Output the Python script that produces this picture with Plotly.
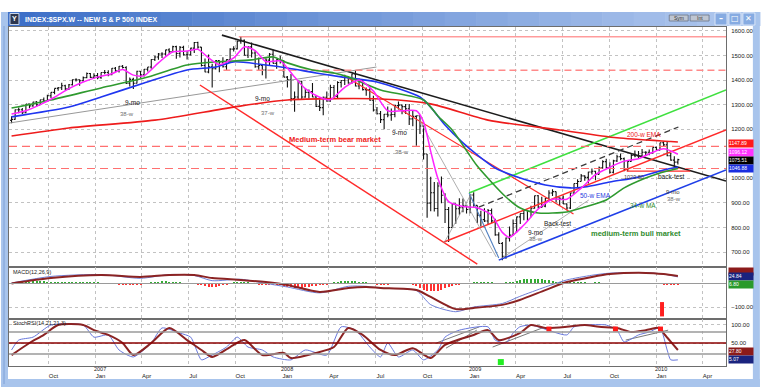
import plotly.graph_objects as go
import pandas as pd

# ------------------------------------------------------------------ data
week_dates = pd.date_range("2006-07-21", periods=187, freq="W-FRI")

bar_open = [
    1236,1240,1279,1279,1267,1302,1295,1311,1299,1320,1315,1336,1350,1366,1369,1377,1364,1381,1401,1401,1397,1410,1427,1411,
    1418,1410,1431,1431,1422,1448,1438,1456,1451,1387,1403,1387,1436,1421,1444,1453,1484,1494,1506,1506,1523,1516,1536,1508,1533,1503,1503,1530,1553,1534,1459,1433,1454,1446,1479,1474,1454,1484,1526,1527,1558,1562,1501,1535,1510,1454,1459,1441,1481,1505,1468,1484,
    1478,1412,1401,1325,1331,1395,1331,1350,1353,1331,1293,1288,1330,1315,1370,1333,1390,1398,1414,1388,1425,1376,1400,1361,1360,1318,1278,1263,1239,1261,1258,1260,1296,1298,1292,1283,1242,1252,1255,1213,1099,899,941,877,969,931,873,800,896,876,880,888,
    873,932,890,850,832,826,869,827,770,735,683,757,769,816,843,857,870,866,878,929,883,887,919,940,946,921,919,896,879,940,979,987,1010,1004,1026,1029,1016,1043,1068,1044,1025,1071,1088,1080,1036,1069,1093,1091,1091,1106,1106,1102,1126,
    1115,1145,1136,1092,1074,1066]
bar_high = [
    1253,1280,1288,1286,1303,1305,1312,1315,1320,1329,1340,1350,1366,1372,1389,1381,1384,1403,1407,1403,1415,1431,1429,1428,
    1429,1431,1441,1440,1449,1453,1457,1461,1456,1410,1409,1438,1437,1445,1453,1485,1499,1510,1513,1523,1530,1540,1540,1539,1540,1518,1532,1555,1556,1535,1488,1504,1466,1482,1481,1493,1485,1530,1538,1561,1576,1565,1536,1553,1520,1492,1462,1489,1510,1523,1485,1499,
    1480,1417,1425,1353,1396,1397,1368,1362,1388,1336,1321,1333,1353,1381,1380,1395,1398,1422,1416,1426,1440,1406,1404,1370,1367,1336,1290,1274,1262,1292,1284,1297,1313,1301,1303,1303,1274,1256,1256,1215,1099,1006,985,984,1007,939,883,897,897,919,918,888,
    932,943,890,868,878,875,877,835,780,741,759,804,832,845,857,875,871,888,930,932,925,920,951,956,946,922,930,898,942,979,996,1018,1013,1027,1040,1031,1048,1074,1080,1065,1076,1096,1101,1085,1072,1100,1113,1111,1119,1110,1117,1126,1130,
    1145,1150,1150,1103,1090,1080]
bar_low = [
    1224,1238,1265,1262,1265,1285,1291,1292,1298,1310,1313,1327,1342,1357,1360,1358,1360,1378,1394,1377,1394,1407,1408,1406,
    1403,1405,1424,1416,1420,1433,1431,1447,1384,1374,1364,1386,1409,1415,1435,1446,1478,1483,1490,1500,1505,1512,1487,1492,1500,1484,1500,1510,1527,1455,1432,1428,1370,1443,1432,1451,1439,1476,1516,1524,1548,1500,1490,1492,1450,1439,1420,1406,1460,1467,1446,1467,
    1411,1370,1313,1271,1323,1320,1328,1325,1330,1290,1274,1257,1312,1312,1328,1324,1370,1380,1385,1385,1374,1363,1358,1336,1316,1272,1260,1225,1200,1249,1234,1249,1280,1261,1262,1217,1212,1133,1180,1077,840,866,865,845,899,818,741,800,815,852,862,857,
    858,884,818,804,822,811,818,766,735,667,673,743,767,779,814,829,826,842,876,878,879,882,915,928,903,888,896,870,875,937,965,987,990,979,1016,992,1016,1039,1041,1020,1020,1066,1074,1029,1029,1069,1086,1083,1091,1092,1094,1102,1115,
    1114,1131,1090,1072,1045,1056]
bar_close = [
    1240,1279,1279,1267,1302,1295,1311,1299,1320,1315,1336,1350,1366,1369,1377,1364,1381,1401,1401,1397,1410,1427,1411,1418,
    1410,1431,1431,1422,1448,1438,1456,1451,1387,1403,1387,1436,1421,1444,1453,1484,1494,1506,1506,1523,1516,1536,1508,1533,1503,1503,1530,1553,1534,1459,1433,1454,1446,1479,1474,1454,1484,1526,1527,1558,1562,1501,1535,1510,1454,1459,1441,1481,1505,1468,1484,1478,
    1412,1401,1325,1331,1395,1331,1350,1353,1331,1293,1288,1330,1315,1370,1333,1390,1398,1414,1388,1425,1376,1400,1361,1360,1318,1278,1263,1239,1261,1258,1260,1296,1298,1292,1283,1242,1252,1255,1213,1099,899,941,877,969,931,873,800,896,876,880,888,873,
    932,890,850,832,826,869,827,770,735,683,757,769,816,843,857,870,866,878,929,883,887,919,940,946,921,919,896,879,940,979,987,1010,1004,1026,1029,1016,1043,1068,1044,1025,1071,1088,1080,1036,1069,1093,1091,1091,1106,1106,1102,1126,1115,
    1145,1136,1092,1074,1066,1076]

fast_ma_dates = ["2006-07-21","2006-08-18","2006-09-15","2006-10-13","2006-11-10","2006-12-08",
    "2007-01-05","2007-02-02","2007-02-23","2007-03-16","2007-04-06","2007-05-04","2007-06-01","2007-06-29","2007-07-20","2007-08-10","2007-08-31","2007-09-28","2007-10-19","2007-11-09","2007-11-30","2007-12-28",
    "2008-01-25","2008-02-15","2008-03-14","2008-04-04","2008-05-02","2008-05-30","2008-06-27","2008-07-25","2008-08-22","2008-09-19","2008-10-03","2008-10-17","2008-10-31","2008-11-21","2008-12-19",
    "2009-01-16","2009-02-13","2009-03-06","2009-03-20","2009-04-17","2009-05-15","2009-06-12","2009-07-10","2009-08-07","2009-09-04","2009-10-02","2009-10-30","2009-11-27","2009-12-24",
    "2010-01-15","2010-02-12"]
fast_ma = [1262,1275,1300,1330,1365,1392,
    1412,1426,1443,1420,1418,1470,1515,1518,1525,1490,1463,1490,1535,1520,1475,1478,
    1412,1365,1330,1320,1370,1400,1355,1275,1275,1275,1230,1110,1000,905,885,
    880,850,780,760,810,875,915,915,960,1015,1045,1070,1080,1105,
    1120,1098]

ma34_dates = ["2006-07-21","2006-10-06","2007-01-12","2007-04-06","2007-06-29","2007-08-24","2007-11-02","2007-12-14",
    "2008-01-11","2008-02-29","2008-04-11","2008-05-09","2008-07-11","2008-10-03","2008-10-31","2008-11-28",
    "2009-01-16","2009-03-13","2009-04-10","2009-05-15","2009-07-10","2009-08-14","2009-09-25","2009-10-30","2009-12-11",
    "2010-01-08","2010-02-12"]
ma34 = [1286,1319,1368,1408,1461,1474,1482,1494,
    1470,1441,1429,1413,1360,1319,1254,1197,
    1050,924,879,859,863,883,912,961,1001,
    1022,1040]

ema50_dates = ["2006-07-21","2006-11-10","2007-01-12","2007-04-06","2007-06-29","2007-08-24","2007-09-28","2007-11-30",
    "2008-01-11","2008-03-07","2008-04-25","2008-07-04","2008-09-26","2008-10-17","2008-11-14","2008-12-19",
    "2009-01-16","2009-02-20","2009-04-10","2009-05-29","2009-07-17","2009-08-14","2009-10-02","2009-11-27",
    "2010-01-15","2010-02-12"]
ema50 = [1250,1290,1331,1388,1441,1453,1474,1461,
    1449,1429,1413,1392,1331,1290,1217,1144,
    1095,1042,1001,973,961,965,985,1005,
    1034,1046]

ema200_dates = ["2006-07-21","2006-11-10","2007-04-27","2007-09-28","2008-01-11","2008-07-11","2008-10-17",
    "2009-02-06","2009-06-26","2009-10-16","2010-01-29","2010-02-12"]
ema200 = [1172,1205,1237,1290,1319,1323,1303,1237,1197,1165,1150,1148]

# straight trend lines: (start date, start price, end date, end price)
trend_names = ["main_down", "long_up", "bear_low", "bear_up", "bull_red", "bull_green", "bull_blue",
               "bull_dash", "drop_blue", "drop_gray", "fan_a", "fan_b", "support"]
trend_start_dates = ["2007-09-05", "2006-07-16", "2007-07-24", "2008-05-02", "2008-11-12", "2008-12-31", "2009-02-27",
                     "2009-01-19", "2008-12-31", "2008-09-25", "2008-11-12", "2009-03-06", "2009-11-04"]
trend_start_prices = [1583, 1225, 1380, 1417, 741, 940, 667, 883, 940, 1237, 737, 676, 1029]
trend_end_dates = ["2010-05-17", "2008-07-03", "2009-01-16", "2009-07-23", "2010-05-17", "2010-05-17", "2010-05-17",
                   "2010-02-13", "2009-02-27", "2009-02-22", "2009-01-03", "2009-08-22", "2010-03-08"]
trend_end_prices = [989, 1453, 651, 855, 1197, 1360, 1034, 1209, 676, 680, 932, 912, 1029]

level_prices = [1576, 1440, 1130, 1040]
level_starts = ["2007-10-08", "2007-09-08", "2006-07-16", "2006-07-16"]

note_texts = ["9-mo", "38-w", "9-mo", "37-w", "9-mo", "38-w", "Medium-term bear market", "200-w EMA",
              "50-w EMA", "34-w MA", "medium-term bull market", "Back-test", "9-mo", "38-w",
              "back-test", "9-mo", "38-w", "1029.80"]
note_dates = ["2007-03-14", "2007-03-04", "2007-11-24", "2007-12-04", "2008-08-17", "2008-08-21", "2008-01-10", "2009-12-07",
              "2009-09-04", "2009-12-05", "2009-11-23", "2009-06-22", "2009-05-10", "2009-05-10",
              "2010-01-30", "2010-02-03", "2010-02-05", "2009-11-19"]
note_prices = [1307, 1262, 1327, 1266, 1185, 1107, 1160, 1180, 932, 891, 777, 818, 781, 753, 1009, 944, 916, 1005]

price_ticks = [700, 800, 900, 1000, 1100, 1200, 1300, 1400, 1500, 1600]
price_tick_text = ["700.00", "800.00", "900.00", "1000.00", "", "1200.00", "1300.00", "1400.00", "1500.00", "1600.00"]
last_values = ["1147.89", "1096.12", "1075.51", "1046.88"]
last_value_prices = [1141, 1106, 1073, 1040]

macd_hist = [0,1,2,
    4,6,8,9,10,10,9,8,8,7,7,6,6,5,5,5,4,4,4,3,3,3,2,2,2,1,
    -2,-4,-6,-8,-8,-7,-5,-3,-1,
    2,4,6,8,9,9,8,6,4,3,1,
    0,-1,-2,
    -4,-7,-10,-13,-14,-13,-10,-7,-4,
    1,3,5,6,5,3,1,
    -2,-4,-6,-8,-6,-4,-3,
    -5,-10,-14,-17,-19,-20,-18,-16,-14,-11,-9,-7,-5,-3,
    2,5,8,10,12,12,11,9,7,5,3,
    -1,-2,-3,-4,-4,-3,-2,-1,-1,0,-1,-2,
    -5,-10,-18,-26,-32,-34,-33,-30,-26,-21,-16,-11,-7,-4,-2,
    1,2,3,3,4,4,3,3,2,2,2,3,
    5,8,11,14,17,19,20,21,20,18,16,13,10,8,6,4,
    3,3,4,4,3,3,2,2,3,3,2,2,2,1,1,2,2,1,1,1,1,0,0,1,
    0,-1,-2,-3,-4,-5,-5,-4]
macd_dates = ["2006-07-21","2006-10-06","2007-01-12","2007-03-30","2007-05-25","2007-07-13","2007-08-17","2007-10-12","2007-11-30",
    "2008-01-11","2008-03-14","2008-05-09","2008-06-13","2008-07-11","2008-09-19","2008-10-17","2008-12-05",
    "2009-01-09","2009-03-06","2009-04-09","2009-05-29","2009-07-10","2009-08-28","2009-10-02","2009-12-11",
    "2010-01-15","2010-02-12"]
macd_signal = [0,23,36,28,36,36,23,15,6,-6,-36,-19,-15,-19,-28,-57,-109,-104,-91,-70,-28,6,28,40,45,40,32]
macd_line = [2,30,38,22,38,34,12,18,0,-15,-40,-12,-12,-20,-30,-90,-120,-100,-85,-55,-15,15,35,44,46,40,28]
macd_ticks = [-100]
macd_values = ["", "24.84", "6.80"]
macd_value_levels = [49, 28, -6]
macd_alert_date = "2010-01-12"
macd_alert_range = [-79, -140]

stoch_slow_dates = ["2006-07-21","2006-08-25","2006-09-22","2006-10-20","2006-12-08","2006-12-29",
    "2007-01-26","2007-02-23","2007-03-16","2007-04-20","2007-05-25","2007-06-29","2007-07-27","2007-08-17","2007-09-21","2007-10-19","2007-11-23",
    "2008-01-04","2008-01-18","2008-03-07","2008-04-11","2008-05-09","2008-06-06","2008-07-11","2008-08-08","2008-09-12","2008-10-17","2008-11-14",
    "2009-01-09","2009-02-06","2009-02-27","2009-04-09","2009-05-01","2009-05-29","2009-07-10","2009-08-14","2009-09-11","2009-10-16","2009-11-13","2009-12-11",
    "2010-01-08","2010-01-15","2010-02-12"]
stoch_slow = [17,50,72,99,99,85,
    72,50,17,50,91,58,31,12,39,58,17,
    23,9,23,39,91,72,31,17,36,9,45,
    72,85,58,77,99,91,94,99,94,91,80,85,
    91,77,31]
stoch_fast_dates = ["2006-07-21","2006-08-04","2006-09-01","2006-10-06","2006-12-08","2006-12-29",
    "2007-01-26","2007-02-16","2007-03-16","2007-04-20","2007-05-11","2007-06-15","2007-07-06","2007-07-27","2007-08-10","2007-09-14","2007-10-05","2007-10-26","2007-11-23","2007-12-14",
    "2008-01-18","2008-02-15","2008-03-28","2008-04-25","2008-05-23","2008-06-20","2008-07-11","2008-07-25","2008-08-15","2008-09-12","2008-10-03","2008-10-31","2008-11-14","2008-12-12",
    "2009-02-06","2009-02-20","2009-03-13","2009-03-27","2009-04-09","2009-05-01","2009-07-10","2009-07-24","2009-08-14","2009-09-25","2009-10-16","2009-10-30","2009-11-27","2009-12-18",
    "2010-01-08","2010-01-22","2010-01-29","2010-02-12"]
stoch_fast = [31,58,66,99,99,66,
    72,31,12,50,91,77,66,4,12,39,66,39,31,12,
    4,31,17,94,85,39,12,50,12,31,4,31,66,85,
    94,58,50,77,94,99,72,94,99,99,85,53,72,80,
    91,31,4,4]
stoch_levels = [80, 50, 20]
stoch_ticks = [100, 50]
stoch_trend_start_dates = ["2008-10-28", "2008-11-16", "2009-02-15", "2009-11-02"]
stoch_trend_start_vals = [50, 36, 39, 58]
stoch_trend_end_dates = ["2009-01-20", "2009-01-15", "2009-05-23", "2010-01-24"]
stoch_trend_end_vals = [94, 85, 91, 85]
stoch_flag_dates = ["2009-06-05", "2009-10-13", "2010-01-09"]
stoch_flag_vals = [88, 88, 88]
stoch_buy_date = ["2009-03-03"]
stoch_buy_val = [-2]
stoch_values = ["27.80", "5.07"]
stoch_value_levels = [28, 6]

tick_dates = ["2006-10-01","2007-01-01","2007-04-01","2007-07-01","2007-10-01","2008-01-01","2008-04-01","2008-07-01",
              "2008-10-01","2009-01-01","2009-04-01","2009-07-01","2009-10-01","2010-01-01","2010-04-01"]
tick_text = ["Oct","Jan","Apr","Jul","Oct","Jan","Apr","Jul","Oct","Jan","Apr","Jul","Oct","Jan","Apr"]
year_dates = ["2007-01-01", "2008-01-01", "2009-01-01", "2010-01-01"]
year_text = ["2007", "2008", "2009", "2010"]

title_text = "INDEX:$SPX.W -- NEW S & P 500 INDEX"

# ------------------------------------------------------------------ styles
FONT = "Liberation Sans, Arial, sans-serif"
X_RANGE = ["2006-07-16", "2010-05-17"]
GRID = "#c2c2c2"
FRAME = "#6d6d6d"
trend_styles = {
    "main_down": dict(color="#1c1c1c", width=1.6),
    "long_up": dict(color="#8c8c8c", width=0.9),
    "bear_low": dict(color="#ff2a2a", width=1.4),
    "bear_up": dict(color="#ff2a2a", width=1.2),
    "bull_red": dict(color="#ff2a2a", width=1.5),
    "bull_green": dict(color="#3fe03f", width=1.6),
    "bull_blue": dict(color="#1f3fe8", width=1.6),
    "bull_dash": dict(color="#3a3a3a", width=1.3, dash="6px,4px"),
    "drop_blue": dict(color="#4f7fc0", width=1.1),
    "drop_gray": dict(color="#999999", width=0.8),
    "fan_a": dict(color="#999999", width=0.8),
    "fan_b": dict(color="#999999", width=0.8),
    "support": dict(color="#ff2a2a", width=1.3),
}
level_styles = [dict(color="#ff6a6a", width=1.0),
                dict(color="#ff8a8a", width=1.3, dash="7px,4px"),
                dict(color="#ff7070", width=1.2, dash="8px,5px"),
                dict(color="#ff7070", width=1.2, dash="8px,5px")]
note_styles = [
    dict(color="#202020", size=6.5), dict(color="#707070", size=6), dict(color="#202020", size=6.5), dict(color="#707070", size=6),
    dict(color="#202020", size=6.5), dict(color="#707070", size=6), dict(color="#ee2020", size=7.5, bold=True, left=True),
    dict(color="#ee2020", size=6.5), dict(color="#2a3ae0", size=6.5), dict(color="#2e8b2e", size=6.5),
    dict(color="#2e8b2e", size=7.5, bold=True), dict(color="#202020", size=6.5), dict(color="#202020", size=6.5),
    dict(color="#707070", size=6), dict(color="#202020", size=6.5), dict(color="#404040", size=6),
    dict(color="#707070", size=6), dict(color="#404040", size=5.5)]
value_colors = ["#ff1a1a", "#ff33ff", "#000000", "#1a2ee0"]
macd_value_colors = ["#8b1a1a", "#1a237e", "#2a9a2a"]
stoch_value_colors = ["#8b1a1a", "#1a237e"]

fig = go.Figure()

# --- main price panel
for name, d0, p0, d1, p1 in zip(trend_names, trend_start_dates, trend_start_prices, trend_end_dates, trend_end_prices):
    fig.add_trace(go.Scatter(x=[d0, d1], y=[p0, p1], mode="lines", line=trend_styles[name],
                             xaxis="x", yaxis="y", hoverinfo="skip"))
for p, s, st in zip(level_prices, level_starts, level_styles):
    fig.add_trace(go.Scatter(x=[s, X_RANGE[1]], y=[p, p], mode="lines", line=st,
                             xaxis="x", yaxis="y", hoverinfo="skip"))

fig.add_trace(go.Ohlc(x=week_dates, open=bar_open, high=bar_high, low=bar_low, close=bar_close,
                      increasing=dict(line=dict(color="#111111", width=1.1)),
                      decreasing=dict(line=dict(color="#111111", width=1.1)),
                      tickwidth=0.4, xaxis="x", yaxis="y", hoverinfo="skip"))

for dts, vals, col, w in [(ema200_dates, ema200, "#ee1c1c", 1.6),
                          (ema50_dates, ema50, "#1f35f0", 1.6),
                          (ma34_dates, ma34, "#2f9a2f", 1.6),
                          (fast_ma_dates, fast_ma, "#ff22ff", 1.5)]:
    fig.add_trace(go.Scatter(x=dts, y=vals, mode="lines",
                             line=dict(color=col, width=w, shape="spline", smoothing=0.7),
                             xaxis="x", yaxis="y", hoverinfo="skip"))

# --- MACD panel
fig.add_trace(go.Bar(x=week_dates, y=macd_hist,
                     marker=dict(color=["#33aa33" if v >= 0 else "#ff3333" for v in macd_hist], line=dict(width=0)),
                     width=1.7e8, xaxis="x2", yaxis="y2", hoverinfo="skip"))
fig.add_trace(go.Scatter(x=macd_dates, y=macd_line, mode="lines",
                         line=dict(color="#6f7fd8", width=1, shape="spline", smoothing=0.7),
                         xaxis="x2", yaxis="y2", hoverinfo="skip"))
fig.add_trace(go.Scatter(x=macd_dates, y=macd_signal, mode="lines",
                         line=dict(color="#8b2323", width=2, shape="spline", smoothing=0.7),
                         xaxis="x2", yaxis="y2", hoverinfo="skip"))
fig.add_trace(go.Scatter(x=[macd_alert_date, macd_alert_date], y=macd_alert_range, mode="lines",
                         line=dict(color="#ff2020", width=4), xaxis="x2", yaxis="y2", hoverinfo="skip"))

# --- StochRSI panel
for d0, v0, d1, v1 in zip(stoch_trend_start_dates, stoch_trend_start_vals, stoch_trend_end_dates, stoch_trend_end_vals):
    fig.add_trace(go.Scatter(x=[d0, d1], y=[v0, v1], mode="lines", line=dict(color="#555555", width=0.8),
                             xaxis="x3", yaxis="y3", hoverinfo="skip"))
fig.add_trace(go.Scatter(x=stoch_fast_dates, y=stoch_fast, mode="lines",
                         line=dict(color="#6878dd", width=1, shape="spline", smoothing=0.6),
                         xaxis="x3", yaxis="y3", hoverinfo="skip"))
fig.add_trace(go.Scatter(x=stoch_slow_dates, y=stoch_slow, mode="lines",
                         line=dict(color="#8b2323", width=2, shape="spline", smoothing=0.7),
                         xaxis="x3", yaxis="y3", hoverinfo="skip"))
fig.add_trace(go.Scatter(x=stoch_flag_dates, y=stoch_flag_vals, mode="markers",
                         marker=dict(symbol="square", size=5, color="#ff1a1a"),
                         xaxis="x3", yaxis="y3", hoverinfo="skip"))
fig.add_trace(go.Scatter(x=stoch_buy_date, y=stoch_buy_val, mode="markers",
                         marker=dict(symbol="square", size=6, color="#22ee22"),
                         xaxis="x3", yaxis="y3", hoverinfo="skip"))

# ------------------------------------------------------------------ layout
def pxx(px):
    return (px - 8) / 720.0


def pxy(py):
    return (366 - py) / 339.0


shapes = []
shapes.append(dict(type="line", xref="paper", x0=0, x1=1, yref="y2", y0=0, y1=0,
                   line=dict(color="#9a9a9a", width=1.2)))
for lv, col in zip(stoch_levels, ["#9a9a9a", "#8b0000", "#9a9a9a"]):
    shapes.append(dict(type="line", xref="paper", x0=0, x1=1, yref="y3", y0=lv, y1=lv,
                       line=dict(color=col, width=1.4)))

# window chrome: title bar gradient
n_seg = 24
c0 = (62, 112, 200)
c1 = (176, 200, 238)
for i in range(n_seg):
    f = i / (n_seg - 1)
    col = "rgb(%d,%d,%d)" % tuple(int(a + (b - a) * f) for a, b in zip(c0, c1))
    xa = 2 + (762 - 2) * i / n_seg
    xb = 2 + (762 - 2) * (i + 1) / n_seg + 0.6
    shapes.append(dict(type="rect", xref="paper", yref="paper", x0=pxx(xa), x1=pxx(xb),
                       y0=pxy(26), y1=pxy(12), fillcolor=col, line=dict(width=0), layer="below"))
for (xa, xb, ya, yb) in [(0, 7, 12, 387), (755, 762, 12, 387), (0, 762, 379, 387)]:
    shapes.append(dict(type="rect", xref="paper", yref="paper", x0=pxx(xa), x1=pxx(xb),
                       y0=pxy(yb), y1=pxy(ya), fillcolor="#a8c4ec", line=dict(width=0), layer="below"))
shapes.append(dict(type="line", xref="paper", yref="paper", x0=pxx(3), x1=pxx(3), y0=pxy(384), y1=pxy(26),
                   line=dict(color="#7fa2d8", width=1)))
shapes.append(dict(type="rect", xref="paper", yref="paper", x0=pxx(9), x1=pxx(18), y0=pxy(24.5), y1=pxy(13.5),
                   fillcolor="#2d3750", line=dict(color="#c8d4e8", width=1)))
for xa, xb in [(671, 690), (692, 711)]:
    shapes.append(dict(type="rect", xref="paper", yref="paper", x0=pxx(xa), x1=pxx(xb), y0=pxy(21), y1=pxy(15),
                       fillcolor="#bfc6d2", line=dict(color="#6a7486", width=0.8)))
for xa, xb in [(717, 729), (731, 743), (745, 757)]:
    shapes.append(dict(type="rect", xref="paper", yref="paper", x0=pxx(xa), x1=pxx(xb), y0=pxy(25), y1=pxy(13),
                       fillcolor="#86abe2", line=dict(color="#e8f0fb", width=0.8)))

annotations = []
for t, d, p, st in zip(note_texts, note_dates, note_prices, note_styles):
    txt = "<b>%s</b>" % t if st.get("bold") else t
    annotations.append(dict(text=txt, x=d, y=p, xref="x", yref="y", showarrow=False,
                            xanchor="left" if st.get("left") else "center", yanchor="middle",
                            font=dict(family=FONT, size=st["size"], color=st["color"])))
for txt, p, col in zip(last_values, last_value_prices, value_colors):
    annotations.append(dict(text=txt, x=1.003, y=p, xref="paper", yref="y", showarrow=False,
                            xanchor="left", yanchor="middle", bgcolor=col, width=24, height=6.5, align="left",
                            borderpad=0, font=dict(family=FONT, size=5, color="white")))
for txt, v, col in zip(macd_values, macd_value_levels, macd_value_colors):
    annotations.append(dict(text=txt, x=1.003, y=v, xref="paper", yref="y2", showarrow=False,
                            xanchor="left", yanchor="middle", bgcolor=col, width=24, height=6.5, align="left",
                            borderpad=0, font=dict(family=FONT, size=5, color="white")))
for txt, v, col in zip(stoch_values, stoch_value_levels, stoch_value_colors):
    annotations.append(dict(text=txt, x=1.003, y=v, xref="paper", yref="y3", showarrow=False,
                            xanchor="left", yanchor="middle", bgcolor=col, width=24, height=6.5, align="left",
                            borderpad=0, font=dict(family=FONT, size=5, color="white")))
for d, t in zip(year_dates, year_text):
    annotations.append(dict(text=t, x=d, y=pxy(368.5), xref="x3", yref="paper", showarrow=False,
                            xanchor="center", yanchor="middle", xshift=5,
                            font=dict(family=FONT, size=5.5, color="#222")))
annotations.append(dict(text="MACD(12,26,9)", x=pxx(10), y=pxy(271.5), xref="paper", yref="paper",
                        showarrow=False, xanchor="left", yanchor="middle",
                        font=dict(family=FONT, size=5.5, color="#222")))
annotations.append(dict(text="StochRSI(14,21,21,3)", x=pxx(10), y=pxy(323), xref="paper", yref="paper",
                        showarrow=False, xanchor="left", yanchor="middle",
                        font=dict(family=FONT, size=5.5, color="#222")))
annotations.append(dict(text="<b>%s</b>" % title_text, x=pxx(22), y=pxy(19.5), xref="paper", yref="paper",
                        showarrow=False, xanchor="left", yanchor="middle",
                        font=dict(family=FONT, size=7, color="white")))
annotations.append(dict(text="<b>Y</b>", x=pxx(13.5), y=pxy(19), xref="paper", yref="paper",
                        showarrow=False, xanchor="center", yanchor="middle",
                        font=dict(family=FONT, size=7, color="white")))
for t, xc in [("Sym", 680.5), ("Int", 701.5)]:
    annotations.append(dict(text=t, x=pxx(xc), y=pxy(18), xref="paper", yref="paper", showarrow=False,
                            xanchor="center", yanchor="middle", font=dict(family=FONT, size=5, color="#333")))
for t, xc in [("\u2013", 723), ("\u25a1", 737), ("\u2715", 751)]:
    annotations.append(dict(text="<b>%s</b>" % t, x=pxx(xc), y=pxy(19), xref="paper", yref="paper",
                            showarrow=False, xanchor="center", yanchor="middle",
                            font=dict(family="DejaVu Sans", size=8, color="white")))

xcommon = dict(type="date", range=X_RANGE, tickmode="array", tickvals=tick_dates, ticktext=tick_text,
               showgrid=True, gridcolor=GRID, griddash="dot", gridwidth=1, showline=True, mirror=True,
               linecolor=FRAME, linewidth=1, zeroline=False, ticks="", fixedrange=True,
               rangeslider=dict(visible=False))
ycommon = dict(side="right", showgrid=True, gridcolor=GRID, griddash="dot", gridwidth=1, showline=True,
               mirror=True, linecolor=FRAME, linewidth=1, zeroline=False, ticks="", tickformat=".2f",
               tickfont=dict(family=FONT, size=6, color="#222"), fixedrange=True, ticklabelstandoff=3)

fig.update_layout(
    width=762, height=387,
    margin=dict(l=8, r=34, t=27, b=21),
    paper_bgcolor="white", plot_bgcolor="white",
    showlegend=False, hovermode=False, bargap=0,
    font=dict(family=FONT, size=6, color="#222"),
    xaxis=dict(xcommon, domain=[0, 1], anchor="y", showticklabels=False),
    xaxis2=dict(xcommon, domain=[0, 1], anchor="y2", showticklabels=False),
    xaxis3=dict(xcommon, domain=[0, 1], anchor="y3", showticklabels=True,
                tickfont=dict(family=FONT, size=6, color="#222"), ticklabelshift=5, ticklabelstandoff=4),
    yaxis=dict(ycommon, domain=[0.292, 1.0], anchor="x", range=[639, 1616], tickmode="array",
               tickvals=price_ticks, ticktext=price_tick_text),
    yaxis2=dict(ycommon, domain=[0.1386, 0.292], anchor="x2", range=[-151, 70], tickmode="array", tickvals=macd_ticks),
    yaxis3=dict(ycommon, domain=[0, 0.1386], anchor="x3", range=[-12.7, 115.4], tickmode="array", tickvals=stoch_ticks),
    shapes=shapes,
    annotations=annotations,
)

fig.write_html("out.html", config={"displayModeBar": False})
